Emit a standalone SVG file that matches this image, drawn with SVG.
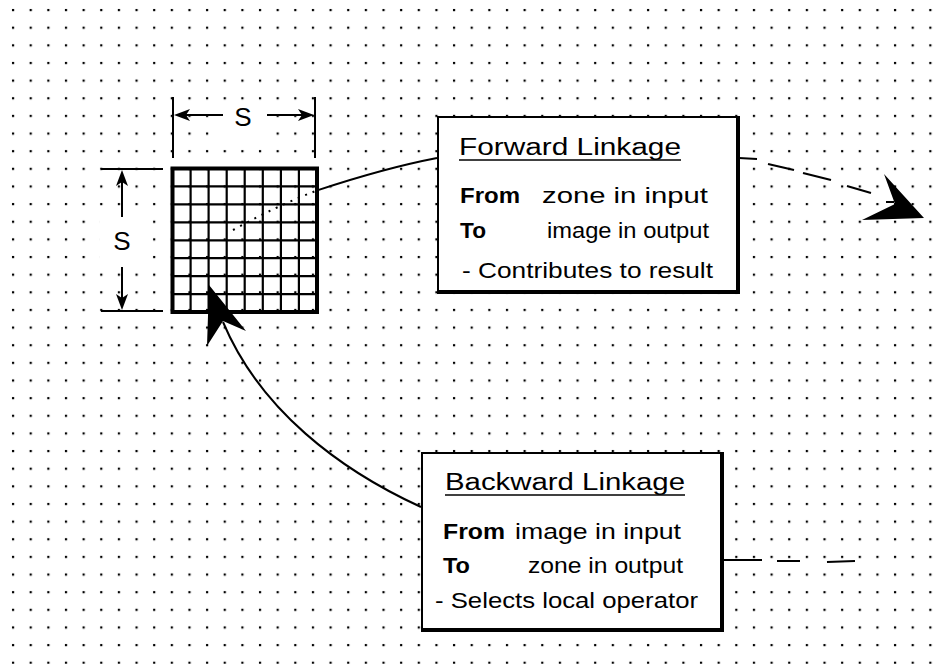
<svg xmlns="http://www.w3.org/2000/svg" width="942" height="664" viewBox="0 0 942 664">
  <defs>
    <pattern id="dots" patternUnits="userSpaceOnUse" x="4.18" y="1.18" width="17.64" height="17.64">
      <rect x="7.8" y="7.8" width="2.2" height="2.2" fill="#000"/>
    </pattern>
    <style>
      .ln { stroke: #000; fill: none; stroke-width: 2; }
      .thick { stroke: #000; fill: none; stroke-width: 4; }
      .cell { stroke: #000; stroke-width: 2.2; }
      .box { fill: #fff; stroke: #000; stroke-width: 2; }
      .t { font-family: "Liberation Sans", Arial, sans-serif; fill: #000; }
      .title { font-size: 23px; }
      .body { font-size: 22px; }
      .kw { font-size: 22px; font-weight: bold; }
      .dim { font-size: 26px; }
      .head { fill: #000; stroke: none; }
    </style>
  </defs>

  <!-- dotted background grid -->
  <rect width="942" height="664" fill="#fff"/>
  <rect width="942" height="664" fill="url(#dots)"/>

  <!-- S x S zone with its dimension marks -->
  <g id="zone">
    <rect x="172.5" y="168.5" width="144.5" height="143.5" fill="#fff" class="thick"/>
    <g class="cell">
      <line x1="190.6" y1="168.5" x2="190.6" y2="312"/>
      <line x1="208.6" y1="168.5" x2="208.6" y2="312"/>
      <line x1="226.7" y1="168.5" x2="226.7" y2="312"/>
      <line x1="244.7" y1="168.5" x2="244.7" y2="312"/>
      <line x1="262.8" y1="168.5" x2="262.8" y2="312"/>
      <line x1="280.9" y1="168.5" x2="280.9" y2="312"/>
      <line x1="298.9" y1="168.5" x2="298.9" y2="312"/>
      <line x1="172.5" y1="186.4" x2="317" y2="186.4"/>
      <line x1="172.5" y1="204.4" x2="317" y2="204.4"/>
      <line x1="172.5" y1="222.3" x2="317" y2="222.3"/>
      <line x1="172.5" y1="240.3" x2="317" y2="240.3"/>
      <line x1="172.5" y1="258.2" x2="317" y2="258.2"/>
      <line x1="172.5" y1="276.1" x2="317" y2="276.1"/>
      <line x1="172.5" y1="294.1" x2="317" y2="294.1"/>
    </g>
  </g>

  <g id="width-mark">
    <rect x="218" y="104" width="50" height="36" fill="#fff"/>
    <line class="ln" x1="173" y1="97" x2="173" y2="158"/>
    <line class="ln" x1="315" y1="97" x2="315" y2="158"/>
    <line class="ln" x1="178" y1="115" x2="223" y2="115"/>
    <line class="ln" x1="267" y1="115" x2="311" y2="115"/>
    <polygon class="head" points="174,115 190,109 186,115 190,121"/>
    <polygon class="head" points="314,115 298,109 302,115 298,121"/>
    <text class="t dim" x="243" y="126" text-anchor="middle">S</text>
  </g>

  <g id="height-mark">
    <rect x="100" y="215" width="46" height="53" fill="#fff"/>
    <line class="ln" x1="101" y1="169" x2="163" y2="169"/>
    <line class="ln" x1="101" y1="311" x2="163" y2="311"/>
    <line class="ln" x1="122" y1="173" x2="122" y2="217"/>
    <line class="ln" x1="122" y1="267" x2="122" y2="307"/>
    <polygon class="head" points="122,170 116,186 122,182 128,186"/>
    <polygon class="head" points="122,310 116,294 122,298 128,294"/>
    <text class="t dim" x="122" y="250" text-anchor="middle">S</text>
  </g>

  <!-- connectors -->
  <g id="connectors">
    <!-- forward linkage: zone to box, then on to the output -->
    <path d="M233,230 Q275.2,206.6 317.2,190.4" stroke="#000" stroke-width="2" fill="none" stroke-dasharray="2 6"/>
    <path d="M317.2,190.4 Q385,168 437,158" class="ln"/>
    <g class="ln">
      <line x1="739" y1="158" x2="757" y2="159"/>
      <line x1="768" y1="164" x2="794" y2="170"/>
      <line x1="803" y1="173" x2="831" y2="180"/>
      <line x1="847" y1="186" x2="871" y2="193"/>
      <line x1="886" y1="202" x2="894" y2="202"/>
    </g>
    <polygon class="head" points="884,174 924,218 862,220 895,204"/>

    <!-- backward linkage: box back to the zone -->
    <path d="M421,507 C340,470 260,410 223,322" class="ln"/>
    <polygon class="head" points="209,285 246,331 223,321 207,346"/>
    <g class="ln">
      <line x1="724" y1="560" x2="762" y2="560"/>
      <line x1="777" y1="561" x2="800" y2="561"/>
      <line x1="827" y1="562" x2="855" y2="561"/>
    </g>
  </g>

  <!-- forward linkage box -->
  <g id="forward-box">
    <rect class="box" x="438" y="117" width="300" height="175"/>
    <path class="thick" d="M738,116 V292 H437"/>
    <text class="t title" x="459" y="155" textLength="222" lengthAdjust="spacingAndGlyphs">Forward Linkage</text>
    <line x1="459" y1="160" x2="681" y2="160" stroke="#000" stroke-width="1.6"/>
    <text class="t kw" x="460" y="203" textLength="60" lengthAdjust="spacingAndGlyphs">From</text>
    <text class="t body" x="542" y="203" textLength="166" lengthAdjust="spacingAndGlyphs">zone in input</text>
    <text class="t kw" x="460" y="238" textLength="26" lengthAdjust="spacingAndGlyphs">To</text>
    <text class="t body" x="547" y="238" textLength="162" lengthAdjust="spacingAndGlyphs">image in output</text>
    <text class="t body" x="462" y="278" textLength="251" lengthAdjust="spacingAndGlyphs">- Contributes to result</text>
  </g>

  <!-- backward linkage box -->
  <g id="backward-box">
    <rect class="box" x="422" y="453" width="300" height="177"/>
    <path class="thick" d="M722,452 V630 H421"/>
    <text class="t title" x="445" y="490" textLength="240" lengthAdjust="spacingAndGlyphs">Backward Linkage</text>
    <line x1="445" y1="495" x2="685" y2="495" stroke="#000" stroke-width="1.6"/>
    <text class="t kw" x="443" y="539" textLength="62" lengthAdjust="spacingAndGlyphs">From</text>
    <text class="t body" x="515" y="539" textLength="166" lengthAdjust="spacingAndGlyphs">image in input</text>
    <text class="t kw" x="443" y="573" textLength="27" lengthAdjust="spacingAndGlyphs">To</text>
    <text class="t body" x="528" y="573" textLength="155" lengthAdjust="spacingAndGlyphs">zone in output</text>
    <text class="t body" x="435" y="608" textLength="263" lengthAdjust="spacingAndGlyphs">- Selects local operator</text>
  </g>
</svg>
